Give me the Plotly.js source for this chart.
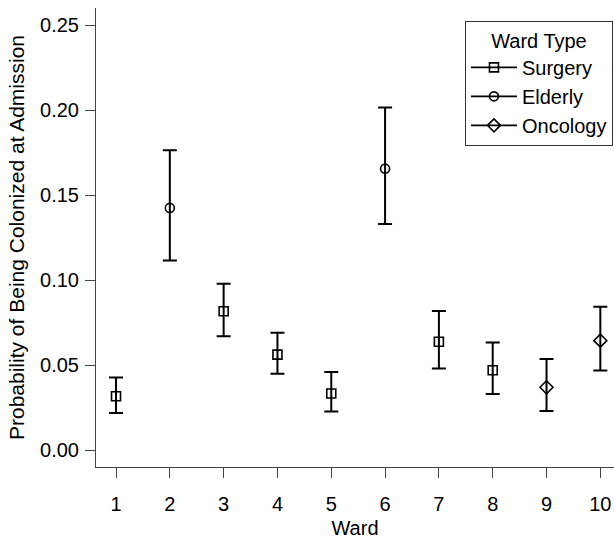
<!DOCTYPE html>
<html>
<head>
<meta charset="utf-8">
<script src="https://cdn.plot.ly/plotly-3.0.1.min.js"></script>
<style>
  html, body { margin: 0; padding: 0; background: #ffffff; }
  #chart { width: 614px; height: 541px; }
</style>
</head>
<body>
<div id="chart"></div>
<script>
// ---- Data ----
const wardTypes = ["Surgery", "Elderly", "Oncology"];
const wards      = [1, 2, 3, 4, 5, 6, 7, 8, 9, 10];
const wardType   = ["Surgery", "Elderly", "Surgery", "Surgery", "Surgery", "Elderly", "Surgery", "Surgery", "Oncology", "Oncology"];
const estimate   = [0.0318, 0.1426, 0.0818, 0.0563, 0.0334, 0.1657, 0.0639, 0.0471, 0.0371, 0.0645];
const upper      = [0.0428, 0.1765, 0.0980, 0.0691, 0.0461, 0.2016, 0.0820, 0.0635, 0.0538, 0.0844];
const lower      = [0.0220, 0.1116, 0.0671, 0.0451, 0.0229, 0.1332, 0.0481, 0.0332, 0.0232, 0.0469];
const yTicks     = [0.00, 0.05, 0.10, 0.15, 0.20, 0.25];
const xTicks     = [1, 2, 3, 4, 5, 6, 7, 8, 9, 10];

// ---- Styling ----
const symbols = { Surgery: "square-open", Elderly: "circle-open", Oncology: "diamond-open" };
const sizes   = { Surgery: 9, Elderly: 9, Oncology: 10 };
const FONT = "Liberation Sans, Arial, Helvetica, sans-serif";
const AXISCOL = "#444444";

// One trace per ward type; nulls between points so no connecting line is drawn,
// while the legend still shows a line through the marker.
const traces = wardTypes.map(t => {
  const x = [], y = [], ep = [], em = [];
  wards.forEach((w, i) => {
    if (wardType[i] !== t) return;
    x.push(w); y.push(estimate[i]);
    ep.push(upper[i] - estimate[i]); em.push(estimate[i] - lower[i]);
    x.push(null); y.push(null); ep.push(null); em.push(null);
  });
  return {
    type: "scatter",
    mode: "lines+markers",
    name: t,
    x: x, y: y,
    connectgaps: false,
    line: { color: "#000000", width: 1.8 },
    marker: { symbol: symbols[t], size: sizes[t], color: "#000000", line: { color: "#000000", width: 1.6 } },
    error_y: { type: "data", symmetric: false, array: ep, arrayminus: em,
               color: "#000000", thickness: 2, width: 7 },
    hoverinfo: "x+y"
  };
});

const layout = {
  width: 614, height: 541,
  margin: { l: 96, r: 0, t: 8, b: 74 },
  paper_bgcolor: "#ffffff", plot_bgcolor: "#ffffff",
  font: { family: FONT, size: 20, color: "#000000" },
  showlegend: true,
  legend: {
    x: 0.998, xanchor: "right", y: 0.972, yanchor: "top",
    bgcolor: "#ffffff", bordercolor: "#333333", borderwidth: 1,
    font: { family: FONT, size: 20, color: "#000000" },
    title: { text: "Ward Type", side: "top center", font: { family: FONT, size: 20 } },
    itemwidth: 46,
    tracegroupgap: 0
  },
  xaxis: {
    range: [0.628, 10.254],
    tickmode: "array", tickvals: xTicks, ticktext: xTicks.map(String),
    showline: true, linecolor: AXISCOL, linewidth: 1,
    ticks: "outside", ticklen: 10, tickwidth: 1, tickcolor: AXISCOL,
    ticklabelstandoff: 9,
    showgrid: false, zeroline: false, mirror: false,
    tickfont: { family: FONT, size: 20, color: "#000000" },
    title: { text: "Ward", font: { family: FONT, size: 20 }, standoff: 6 }
  },
  yaxis: {
    range: [-0.0098, 0.2602],
    tickmode: "array", tickvals: yTicks, ticktext: yTicks.map(v => v.toFixed(2)),
    showline: true, linecolor: AXISCOL, linewidth: 1,
    ticks: "outside", ticklen: 10, tickwidth: 1, tickcolor: AXISCOL,
    ticklabelstandoff: 2,
    showgrid: false, zeroline: false, mirror: false,
    tickfont: { family: FONT, size: 20, color: "#000000" },
    title: { text: "Probability of Being Colonized at Admission", font: { family: FONT, size: 21 }, standoff: 9 }
  }
};

Plotly.newPlot("chart", traces, layout, { displayModeBar: false, staticPlot: true });
</script>
</body>
</html>
